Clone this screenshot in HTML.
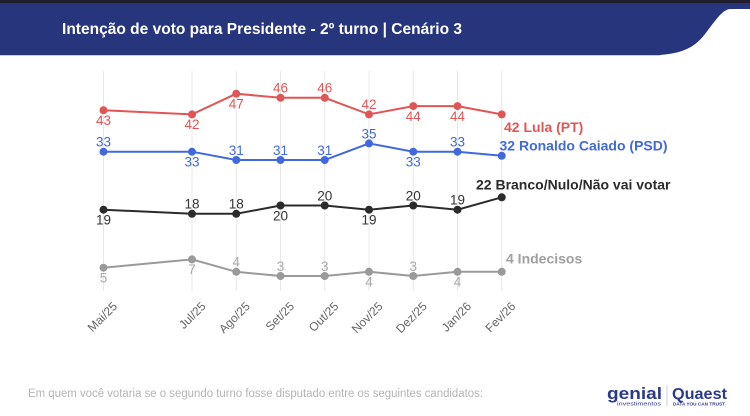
<!DOCTYPE html>
<html><head><meta charset="utf-8"><style>
html,body{margin:0;padding:0;background:#fff;}
svg{display:block;}
text{font-family:"Liberation Sans",Arial,sans-serif;}
</style></head><body>
<svg width="750" height="416" viewBox="0 0 750 416" xmlns="http://www.w3.org/2000/svg">
<rect width="750" height="416" fill="#fff"/>
<!-- header -->
<rect x="0" y="0" width="750" height="3" fill="#1e1f2b"/>
<path d="M0,3 H750 V9 H730 C722,10 716,20 708,30 C698,44 688,53 660,55 H0 Z" fill="#26357c"/>
<line x1="0" y1="55.5" x2="660" y2="55.5" stroke="#c9cde2" stroke-width="1"/>
<text x="62" y="34" font-size="16" font-weight="bold" fill="#fff" textLength="400" lengthAdjust="spacingAndGlyphs">Intenção de voto para Presidente - 2º turno | Cenário 3</text>

<!-- gridlines -->
<g stroke="#e8e8e8" stroke-width="1">
<line x1="103.5" y1="71" x2="103.5" y2="291"/>
<line x1="192" y1="71" x2="192" y2="291"/>
<line x1="236.25" y1="71" x2="236.25" y2="291"/>
<line x1="280.5" y1="71" x2="280.5" y2="291"/>
<line x1="324.75" y1="71" x2="324.75" y2="291"/>
<line x1="369" y1="71" x2="369" y2="291"/>
<line x1="413.25" y1="71" x2="413.25" y2="291"/>
<line x1="457.5" y1="71" x2="457.5" y2="291"/>
<line x1="501.75" y1="71" x2="501.75" y2="291"/>
</g>

<!-- Lula -->
<g fill="#e05656">
<polyline fill="none" stroke="#e05656" stroke-width="2" points="103.5,110.25 192,114.4 236.25,93.7 280.5,97.8 324.75,97.8 369,114.4 413.25,106.1 457.5,106.1 501.75,114.4"/>
<circle cx="103.5" cy="110.25" r="4"/><circle cx="192" cy="114.4" r="4"/><circle cx="236.25" cy="93.7" r="4"/><circle cx="280.5" cy="97.8" r="4"/><circle cx="324.75" cy="97.8" r="4"/><circle cx="369" cy="114.4" r="4"/><circle cx="413.25" cy="106.1" r="4"/><circle cx="457.5" cy="106.1" r="4"/><circle cx="501.75" cy="114.4" r="4"/>
<g font-size="13.5" text-anchor="middle">
<text x="103.5" y="125">43</text><text x="192" y="129">42</text><text x="236.25" y="108.5">47</text><text x="280.5" y="92.5">46</text><text x="324.75" y="92.5">46</text><text x="369" y="109">42</text><text x="413.25" y="121">44</text><text x="457.5" y="121">44</text>
</g>
<text x="504" y="132" font-size="14" font-weight="bold">42 Lula (PT)</text>
</g>

<!-- Caiado -->
<g fill="#4169de">
<polyline fill="none" stroke="#4169de" stroke-width="2" points="103.5,151.7 192,151.7 236.25,160 280.5,160 324.75,160 369,143.4 413.25,151.7 457.5,151.7 501.75,155.8"/>
<circle cx="103.5" cy="151.7" r="4"/><circle cx="192" cy="151.7" r="4"/><circle cx="236.25" cy="160" r="4"/><circle cx="280.5" cy="160" r="4"/><circle cx="324.75" cy="160" r="4"/><circle cx="369" cy="143.4" r="4"/><circle cx="413.25" cy="151.7" r="4"/><circle cx="457.5" cy="151.7" r="4"/><circle cx="501.75" cy="155.8" r="4"/>
<g font-size="13.5" text-anchor="middle">
<text x="103.5" y="146.5">33</text><text x="192" y="166.5">33</text><text x="236.25" y="155">31</text><text x="280.5" y="155">31</text><text x="324.75" y="155">31</text><text x="369" y="138.3">35</text><text x="413.25" y="166.5">33</text><text x="457.5" y="146.5">33</text>
</g>
<text x="499.5" y="150.5" font-size="14" font-weight="bold">32 Ronaldo Caiado (PSD)</text>
</g>

<!-- Branco -->
<g fill="#2b2b2b">
<polyline fill="none" stroke="#2b2b2b" stroke-width="2" points="103.5,209.7 192,213.8 236.25,213.8 280.5,205.5 324.75,205.5 369,209.7 413.25,205.5 457.5,209.7 501.75,197.3"/>
<circle cx="103.5" cy="209.7" r="4"/><circle cx="192" cy="213.8" r="4"/><circle cx="236.25" cy="213.8" r="4"/><circle cx="280.5" cy="205.5" r="4"/><circle cx="324.75" cy="205.5" r="4"/><circle cx="369" cy="209.7" r="4"/><circle cx="413.25" cy="205.5" r="4"/><circle cx="457.5" cy="209.7" r="4"/><circle cx="501.75" cy="197.3" r="4"/>
<g font-size="13.5" text-anchor="middle" fill="#333">
<text x="103.5" y="224.5">19</text><text x="192" y="208.7">18</text><text x="236.25" y="208.7">18</text><text x="280.5" y="220.3">20</text><text x="324.75" y="200.4">20</text><text x="369" y="224.5">19</text><text x="413.25" y="200.4">20</text><text x="457.5" y="204.6">19</text>
</g>
<text x="476" y="189.5" font-size="14" font-weight="bold">22 Branco/Nulo/Não vai votar</text>
</g>

<!-- Indecisos -->
<g fill="#9a9a9a">
<polyline fill="none" stroke="#9a9a9a" stroke-width="2" points="103.5,267.7 192,259.4 236.25,271.8 280.5,276 324.75,276 369,271.8 413.25,276 457.5,271.8 501.75,271.8"/>
<circle cx="103.5" cy="267.7" r="4"/><circle cx="192" cy="259.4" r="4"/><circle cx="236.25" cy="271.8" r="4"/><circle cx="280.5" cy="276" r="4"/><circle cx="324.75" cy="276" r="4"/><circle cx="369" cy="271.8" r="4"/><circle cx="413.25" cy="276" r="4"/><circle cx="457.5" cy="271.8" r="4"/><circle cx="501.75" cy="271.8" r="4"/>
<g font-size="13.5" text-anchor="middle" fill="#a8a8a8">
<text x="103.5" y="282.5">5</text><text x="192" y="274.2">7</text><text x="236.25" y="266.7">4</text><text x="280.5" y="270.9">3</text><text x="324.75" y="270.9">3</text><text x="369" y="286.6">4</text><text x="413.25" y="270.9">3</text><text x="457.5" y="286.6">4</text>
</g>
<text x="506" y="263.7" font-size="14" font-weight="bold" fill="#a0a0a0">4 Indecisos</text>
</g>

<!-- x axis labels -->
<g font-size="12" fill="#666" text-anchor="end">
<text transform="translate(118,307) rotate(-45)">Mai/25</text>
<text transform="translate(206.5,307) rotate(-45)">Jul/25</text>
<text transform="translate(250.75,307) rotate(-45)">Ago/25</text>
<text transform="translate(295,307) rotate(-45)">Set/25</text>
<text transform="translate(339.25,307) rotate(-45)">Out/25</text>
<text transform="translate(383.5,307) rotate(-45)">Nov/25</text>
<text transform="translate(427.75,307) rotate(-45)">Dez/25</text>
<text transform="translate(472,307) rotate(-45)">Jan/26</text>
<text transform="translate(516.25,307) rotate(-45)">Fev/26</text>
</g>

<!-- footer -->
<text x="28" y="397" font-size="11.5" fill="#b4b4b4" textLength="455" lengthAdjust="spacingAndGlyphs">Em quem você votaria se o segundo turno fosse disputado entre os seguintes candidatos:</text>

<!-- logos -->
<text x="607" y="399" font-size="17" font-weight="bold" fill="#2c3a8c" textLength="55" lengthAdjust="spacingAndGlyphs">genial</text>
<text x="617" y="405.5" font-size="5" fill="#2c3a8c" textLength="44" lengthAdjust="spacingAndGlyphs">investimentos</text>
<line x1="667" y1="385" x2="667" y2="406" stroke="#cfd2df" stroke-width="1"/>
<text x="672" y="399" font-size="16" font-weight="bold" fill="#2c3a8c" textLength="55" lengthAdjust="spacingAndGlyphs">Quaest</text>
<text x="673" y="405.5" font-size="4.5" font-weight="bold" fill="#2c3a8c" textLength="52" lengthAdjust="spacingAndGlyphs">DATA YOU CAN TRUST</text>
</svg>
</body></html>
